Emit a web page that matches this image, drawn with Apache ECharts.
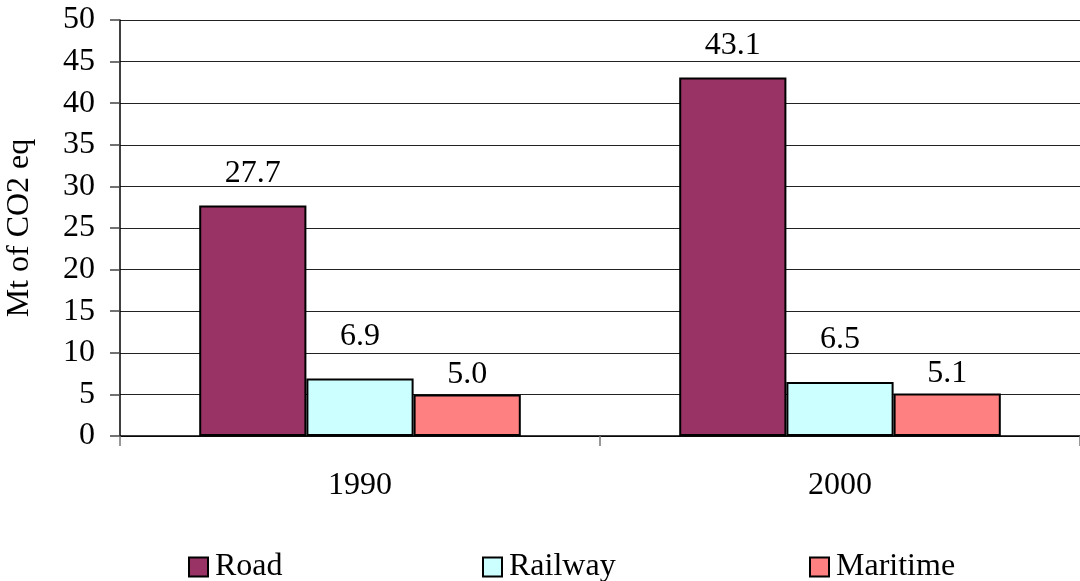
<!DOCTYPE html>
<html>
<head>
<meta charset="utf-8">
<script src="https://cdn.jsdelivr.net/npm/echarts@6/dist/echarts.min.js"></script>
<style>
  html, body { margin: 0; padding: 0; background: #fff; }
  #chart { width: 1080px; height: 581px; }
</style>
</head>
<body>
<div id="chart"></div>
<script>
// Transport-sector emissions, Mt of CO2 equivalent
const years = ['1990', '2000'];
const road = [27.7, 43.1];
const railway = [6.9, 6.5];
const maritime = [5.0, 5.1];
const seriesNames = ['Road', 'Railway', 'Maritime'];

const FONT = '"Liberation Serif", "Times New Roman", serif';
const FS = 32;

const chart = echarts.init(document.getElementById('chart'), null, { renderer: 'canvas' });

function barSeries(name, values, color, labelGap) {
  return {
    name: name,
    type: 'bar',
    data: values,
    barGap: '0%',
    barCategoryGap: '33%',
    itemStyle: { color: color, borderColor: '#000', borderWidth: 2 },
    label: {
      show: true,
      position: 'top',
      distance: labelGap,
      color: '#000',
      fontFamily: FONT,
      fontSize: FS,
      formatter: p => p.value.toFixed(1)
    },
    emphasis: { disabled: true }
  };
}

function legendAt(name, left) {
  return {
    data: [name],
    left: left,
    top: 546,
    itemWidth: 19,
    itemHeight: 19,
    itemGap: 0,
    icon: 'rect',
    textStyle: { fontFamily: FONT, fontSize: FS, color: '#000', padding: [0, 0, 0, 2] },
    itemStyle: { borderColor: '#000', borderWidth: 2 },
    selectedMode: false
  };
}

chart.setOption({
  animation: false,
  backgroundColor: '#fff',
  grid: { left: 120, right: 0, top: 20, bottom: 145, containLabel: false, outerBoundsMode: 'none' },
  legend: [
    legendAt('Road', 183),
    legendAt('Railway', 477),
    legendAt('Maritime', 804)
  ],
  xAxis: {
    type: 'category',
    data: years,
    axisLine: { lineStyle: { color: '#000', width: 1.5 } },
    axisTick: { show: true, length: 10, lineStyle: { color: '#777', width: 1.5 } },
    axisLabel: { color: '#000', fontFamily: FONT, fontSize: FS, margin: 34 }
  },
  yAxis: {
    type: 'value',
    min: 0,
    max: 50,
    interval: 5,
    name: 'Mt of CO2 eq',
    nameLocation: 'middle',
    nameRotate: 90,
    nameGap: 84,
    nameTextStyle: { color: '#000', fontFamily: FONT, fontSize: FS },
    axisLine: { show: true, lineStyle: { color: '#000', width: 1.5 } },
    axisTick: { show: true, length: 10, lineStyle: { color: '#444', width: 1.5 } },
    axisLabel: { color: '#000', fontFamily: FONT, fontSize: FS, margin: 25 },
    splitLine: { show: true, lineStyle: { color: '#222', width: 1.2 } }
  },
  series: [
    barSeries(seriesNames[0], road, '#993366', 16),
    barSeries(seriesNames[1], railway, '#CCFFFF', 26),
    barSeries(seriesNames[2], maritime, '#FF8080', 4)
  ]
});
</script>
</body>
</html>
